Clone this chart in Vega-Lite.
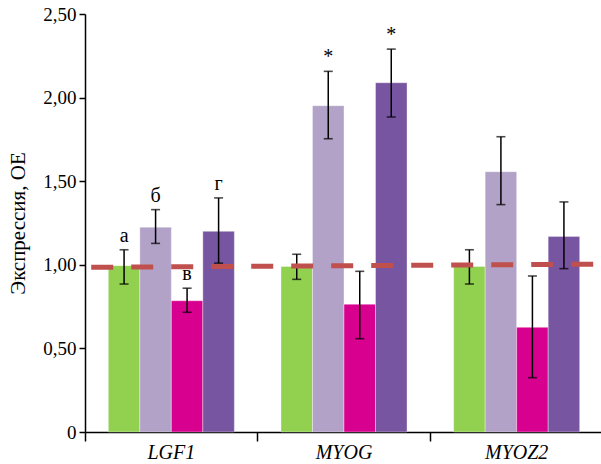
{
  "$schema": "https://vega.github.io/schema/vega-lite/v6.json",
  "width": 518,
  "height": 418,
  "autosize": "none",
  "padding": {"left": 85, "top": 14, "right": 0, "bottom": 32},
  "background": "white",
  "config": {"view": {"stroke": null}, "font": "'Liberation Serif', 'Times New Roman', serif"},
  "datasets": {
    "bars": [
      {"gene": "LGF1", "grp": "1", "value": 0.995, "lo": 0.885, "hi": 1.09, "lab": "а"},
      {"gene": "LGF1", "grp": "2", "value": 1.225, "lo": 1.128, "hi": 1.33, "lab": "б"},
      {"gene": "LGF1", "grp": "3", "value": 0.785, "lo": 0.716, "hi": 0.86, "lab": "в"},
      {"gene": "LGF1", "grp": "4", "value": 1.2, "lo": 1.01, "hi": 1.4, "lab": "г"},
      {"gene": "MYOG", "grp": "1", "value": 0.99, "lo": 0.913, "hi": 1.063, "lab": ""},
      {"gene": "MYOG", "grp": "2", "value": 1.952, "lo": 1.754, "hi": 2.157, "lab": "*"},
      {"gene": "MYOG", "grp": "3", "value": 0.764, "lo": 0.558, "hi": 0.961, "lab": ""},
      {"gene": "MYOG", "grp": "4", "value": 2.089, "lo": 1.884, "hi": 2.29, "lab": "*"},
      {"gene": "MYOZ2", "grp": "1", "value": 0.99, "lo": 0.885, "hi": 1.09, "lab": ""},
      {"gene": "MYOZ2", "grp": "2", "value": 1.557, "lo": 1.36, "hi": 1.766, "lab": ""},
      {"gene": "MYOZ2", "grp": "3", "value": 0.626, "lo": 0.325, "hi": 0.933, "lab": ""},
      {"gene": "MYOZ2", "grp": "4", "value": 1.17, "lo": 0.977, "hi": 1.376, "lab": ""}
    ],
    "ref": [
      {"pos": 0.012, "level": 0.985},
      {"pos": 0.988, "level": 1.004}
    ]
  },
  "layer": [
    {
      "data": {"name": "bars"},
      "encoding": {
        "x": {
          "field": "gene", "type": "nominal", "sort": ["LGF1", "MYOG", "MYOZ2"],
          "scale": {"paddingInner": 0, "paddingOuter": 0},
          "axis": {
            "title": null, "labelAngle": 0, "bandPosition": 0,
            "labelFont": "'Liberation Serif', 'Times New Roman', serif", "labelFontStyle": "italic", "labelFontSize": 20,
            "labelColor": "black", "tickColor": "black", "tickSize": 9, "tickWidth": 1.5,
            "domainColor": "black", "domainWidth": 1.5, "labelPadding": 1
          }
        },
        "xOffset": {"field": "grp", "type": "nominal", "scale": {"paddingInner": 0, "paddingOuter": 0.74}},
        "y": {
          "type": "quantitative",
          "scale": {"domain": [0, 2.5], "nice": false},
          "axis": {
            "title": "Экспрессия, ОЕ", "values": [0, 0.5, 1, 1.5, 2, 2.5],
            "labelExpr": "datum.value == 0 ? '0' : replace(format(datum.value, '.2f'), '.', ',')",
            "labelFont": "'Liberation Serif', 'Times New Roman', serif", "labelFontSize": 19, "labelColor": "black",
            "titleFont": "'Liberation Serif', 'Times New Roman', serif", "titleFontSize": 21, "titleFontWeight": "normal", "titleColor": "black",
            "titlePadding": 14, "grid": false, "tickColor": "black", "tickSize": 6, "tickWidth": 1.5,
            "domainColor": "black", "domainWidth": 1.5, "labelPadding": 3
          }
        }
      },
      "layer": [
        {
          "mark": {"type": "bar", "stroke": "white", "strokeWidth": 0.6, "strokeOpacity": 0.6},
          "encoding": {
            "y": {"field": "value"},
            "color": {
              "field": "grp", "type": "nominal", "legend": null,
              "scale": {"domain": ["1", "2", "3", "4"], "range": ["#92d050", "#b3a2c7", "#d8008f", "#7755a0"]}
            }
          }
        },
        {
          "mark": {"type": "rule", "color": "black", "strokeWidth": 1.5},
          "encoding": {"y": {"field": "lo"}, "y2": {"field": "hi"}}
        },
        {
          "mark": {"type": "tick", "color": "black", "size": 9, "thickness": 1.6, "orient": "horizontal"},
          "encoding": {"y": {"field": "lo"}}
        },
        {
          "mark": {"type": "tick", "color": "black", "size": 9, "thickness": 1.6, "orient": "horizontal"},
          "encoding": {"y": {"field": "hi"}}
        },
        {
          "transform": [{"filter": "datum.lab != ''"}],
          "mark": {"type": "text", "font": "'Liberation Serif', 'Times New Roman', serif", "fontSize": 20, "color": "black", "baseline": "alphabetic", "dy": -8},
          "encoding": {"y": {"field": "hi"}, "text": {"field": "lab"}}
        }
      ]
    },
    {
      "data": {"name": "ref"},
      "mark": {"type": "line", "color": "#c0504d", "strokeWidth": 5, "strokeDash": [22, 18], "strokeCap": "butt"},
      "encoding": {
        "x": {"field": "pos", "type": "quantitative", "scale": {"domain": [0, 1]}, "axis": null},
        "y": {"field": "level", "type": "quantitative"}
      }
    }
  ],
  "resolve": {"scale": {"x": "independent"}}
}
